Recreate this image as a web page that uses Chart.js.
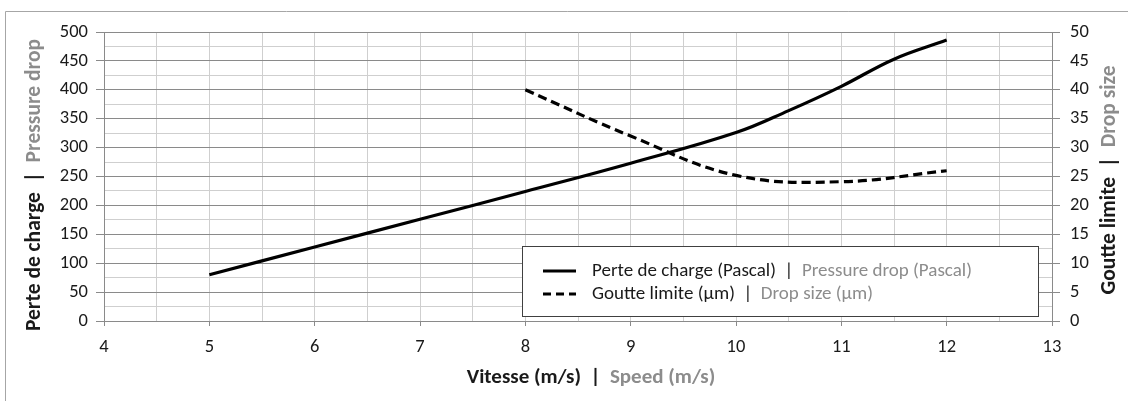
<!DOCTYPE html>
<html>
<head>
<meta charset="utf-8">
<script src="https://cdn.jsdelivr.net/npm/chart.js@4.4.1/dist/chart.umd.min.js"></script>
<style>
  html, body { margin: 0; padding: 0; background: #ffffff; }
  #wrap { width: 1128px; height: 401px; position: relative; }
</style>
</head>
<body>
<div id="wrap"><canvas id="c" width="1128" height="401"></canvas></div>
<script>
// ---- data ----
const speedPressure = [5, 6, 7, 8, 9, 10, 10.5, 11, 11.5, 12];          // m/s
const pressureDrop  = [80, 128, 176, 224, 273, 326, 364, 406, 453, 486]; // Pascal
const speedDrop     = [8, 9, 10, 11, 12];                    // m/s
const dropSize      = [40, 32, 25.2, 24.1, 26];              // µm

const xTickLabels   = [4, 5, 6, 7, 8, 9, 10, 11, 12, 13];
const leftTickStep  = 50;   // labelled every 50 Pa
const rightTickStep = 5;    // labelled every 5 µm

const seriesNames = {
  pressureFr: "Perte de charge (Pascal)", pressureEn: "Pressure drop (Pascal)",
  dropFr: "Goutte limite (µm)", dropEn: "Drop size (µm)"
};
const axisTitles = {
  xFr: "Vitesse (m/s)", xEn: "Speed (m/s)",
  yFr: "Perte de charge", yEn: "Pressure drop",
  y2Fr: "Goutte limite", y2En: "Drop size"
};

const FONT = "Carlito, Lato, 'Liberation Sans', sans-serif";
const BLACK = "#1a1a1a";
const GRAY = "#8c8c8c";
const GRID_MAJOR = "#8a8a8a";
const GRID_MINOR = "#cfcfcf";
const TICK_SIZE = 18.5;

function pairs(xs, ys) { return xs.map((x, i) => ({ x: x, y: ys[i] })); }

function drawMixed(ctx, parts, x, y, align) {
  let total = 0;
  parts.forEach(p => { total += ctx.measureText(p.t).width; });
  let cx = align === 'center' ? x - total / 2 : x;
  ctx.textAlign = 'left';
  parts.forEach(p => {
    ctx.fillStyle = p.c;
    ctx.fillText(p.t, cx, y);
    cx += ctx.measureText(p.t).width;
  });
}

const decorPlugin = {
  id: 'decor',
  beforeDraw(chart) {
    const ctx = chart.ctx;
    ctx.save();
    ctx.fillStyle = '#ffffff';
    ctx.fillRect(0, 0, chart.width, chart.height);
    ctx.strokeStyle = '#a6a6a6';
    ctx.lineWidth = 1;
    ctx.beginPath();
    ctx.moveTo(5.5, chart.height + 5);
    ctx.lineTo(5.5, 11.5);
    ctx.lineTo(chart.width + 5, 11.5);
    ctx.stroke();
    ctx.restore();
  },
  afterDraw(chart) {
    const ctx = chart.ctx;
    ctx.save();
    ctx.textBaseline = 'middle';
    ctx.font = "bold 21px " + FONT;
    drawMixed(ctx, [
      { t: axisTitles.xFr, c: BLACK }, { t: "  |  ", c: BLACK }, { t: axisTitles.xEn, c: GRAY }
    ], 591, 378, 'center');
    ctx.font = "bold 21.5px " + FONT;
    ctx.save();
    ctx.translate(35, 185);
    ctx.rotate(-Math.PI / 2);
    drawMixed(ctx, [
      { t: axisTitles.yFr, c: BLACK }, { t: "  |  ", c: BLACK }, { t: axisTitles.yEn, c: GRAY }
    ], 0, 0, 'center');
    ctx.restore();
    ctx.save();
    ctx.translate(1110, 180);
    ctx.rotate(-Math.PI / 2);
    drawMixed(ctx, [
      { t: axisTitles.y2Fr, c: BLACK }, { t: "  |  ", c: BLACK }, { t: axisTitles.y2En, c: GRAY }
    ], 0, 0, 'center');
    ctx.restore();

    // legend box
    const bx = 522, by = 246, bw = 516, bh = 70;
    ctx.fillStyle = '#ffffff';
    ctx.fillRect(bx, by, bw, bh);
    ctx.strokeStyle = '#404040';
    ctx.lineWidth = 1;
    ctx.strokeRect(bx + 0.5, by + 0.5, bw, bh);
    const rows = [
      { y: 271, dash: [], fr: seriesNames.pressureFr, en: seriesNames.pressureEn },
      { y: 294, dash: [8, 5], fr: seriesNames.dropFr, en: seriesNames.dropEn }
    ];
    ctx.font = "19px " + FONT;
    rows.forEach(r => {
      ctx.strokeStyle = '#000000';
      ctx.lineWidth = 3;
      ctx.setLineDash(r.dash);
      ctx.beginPath();
      ctx.moveTo(543, r.y);
      ctx.lineTo(576, r.y);
      ctx.stroke();
      ctx.setLineDash([]);
      drawMixed(ctx, [
        { t: r.fr, c: BLACK }, { t: "  |  ", c: BLACK }, { t: r.en, c: GRAY }
      ], 592, r.y, 'left');
    });
    ctx.restore();
  }
};

const chart = new Chart(document.getElementById('c'), {
  type: 'line',
  data: {
    datasets: [
      {
        label: seriesNames.pressureFr,
        data: pairs(speedPressure, pressureDrop),
        yAxisID: 'y',
        borderColor: '#000000',
        borderWidth: 3.2,
        pointRadius: 0,
        tension: 0.4,
        fill: false
      },
      {
        label: seriesNames.dropFr,
        data: pairs(speedDrop, dropSize),
        yAxisID: 'y2',
        borderColor: '#000000',
        borderWidth: 3.2,
        borderDash: [9, 5],
        pointRadius: 0,
        tension: 0.4,
        fill: false
      }
    ]
  },
  options: {
    responsive: false,
    animation: false,
    devicePixelRatio: 1,
    layout: { padding: { top: 32, left: 0, right: 0, bottom: 0 } },
    plugins: { legend: { display: false }, tooltip: { enabled: false }, title: { display: false } },
    scales: {
      x: {
        type: 'linear',
        min: xTickLabels[0],
        max: xTickLabels[xTickLabels.length - 1],
        afterFit(s) { s.height = 80; },
        ticks: {
          stepSize: 0.5,
          autoSkip: false,
          maxRotation: 0,
          padding: 10,
          color: BLACK,
          font: { family: FONT, size: TICK_SIZE },
          callback(v) { return xTickLabels.includes(v) ? String(v) : ''; }
        },
        grid: {
          color: GRID_MINOR,
          lineWidth: 1,
          tickLength: 5,
          tickColor(ctx) { return (ctx.tick && Number.isInteger(ctx.tick.value)) ? GRID_MAJOR : 'rgba(0,0,0,0)'; }
        },
        border: { color: GRID_MAJOR, width: 1 }
      },
      y: {
        type: 'linear',
        position: 'left',
        min: 0,
        max: 500,
        afterFit(s) { s.width = 104; },
        ticks: {
          stepSize: 25,
          autoSkip: false,
          padding: 8,
          color: BLACK,
          font: { family: FONT, size: TICK_SIZE },
          callback(v) { return v % leftTickStep === 0 ? String(v) : ''; }
        },
        grid: {
          lineWidth: 1,
          tickLength: 8,
          color(ctx) { return (ctx.tick && ctx.tick.value % 50 === 0) ? GRID_MAJOR : GRID_MINOR; },
          tickColor(ctx) { return (ctx.tick && ctx.tick.value % 50 === 0) ? GRID_MAJOR : 'rgba(0,0,0,0)'; }
        },
        border: { color: GRID_MAJOR, width: 1 }
      },
      y2: {
        type: 'linear',
        position: 'right',
        min: 0,
        max: 50,
        afterFit(s) { s.width = 76; },
        ticks: {
          stepSize: rightTickStep,
          autoSkip: false,
          padding: 10,
          color: BLACK,
          font: { family: FONT, size: TICK_SIZE },
          callback(v) { return String(v); }
        },
        grid: {
          drawOnChartArea: false,
          tickLength: 8,
          tickColor: GRID_MAJOR
        },
        border: { color: GRID_MAJOR, width: 1 }
      }
    }
  },
  plugins: [decorPlugin]
});
</script>
</body>
</html>
